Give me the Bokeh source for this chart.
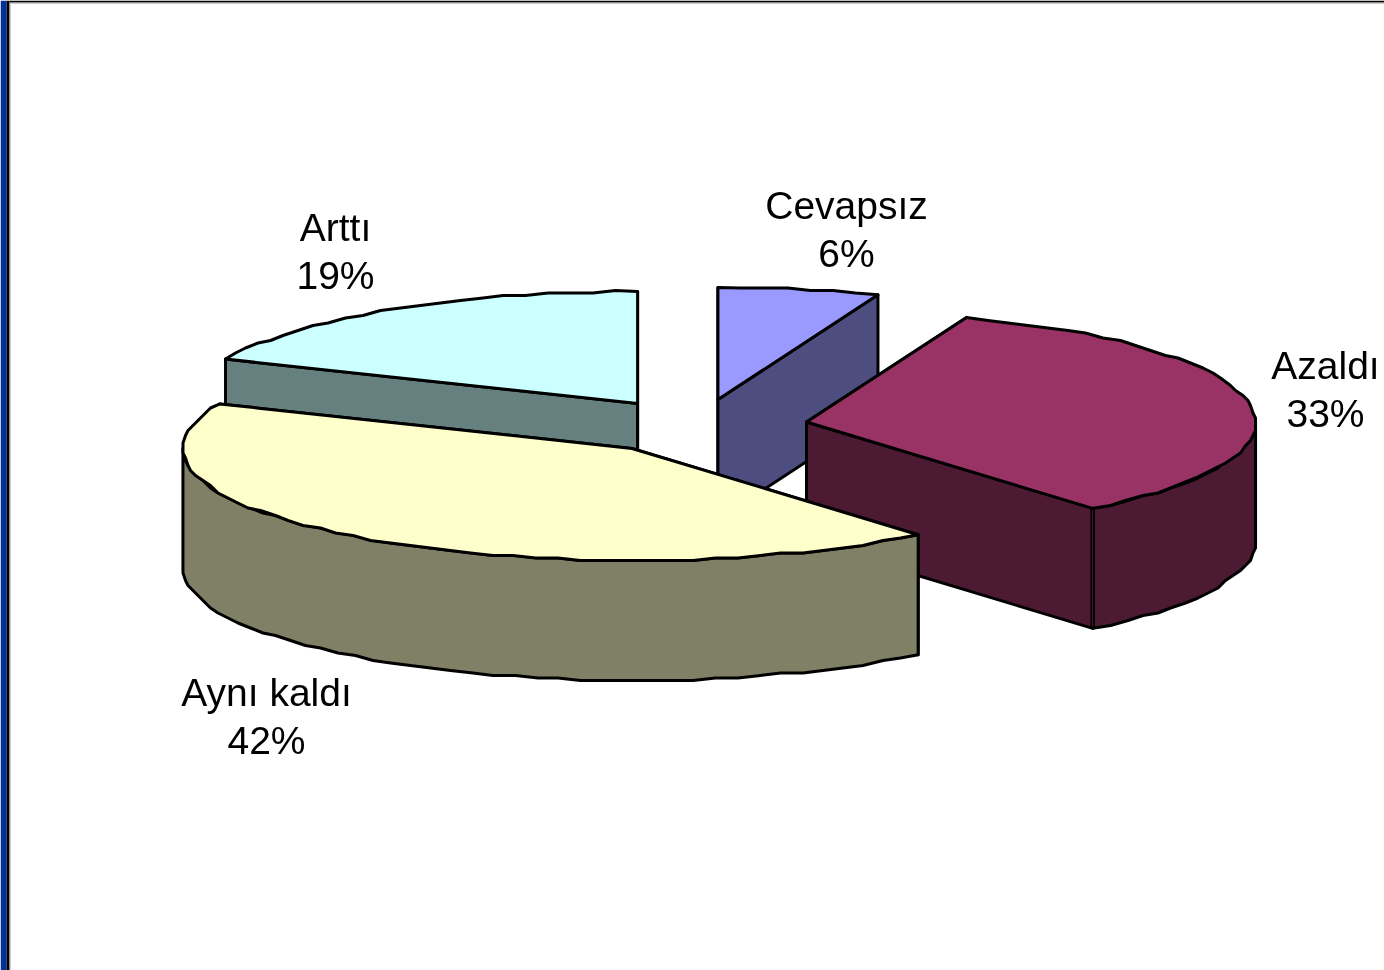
import math
from bokeh.plotting import figure
from bokeh.models import Range1d
from bokeh.embed import file_html
from bokeh.resources import INLINE
from bokeh.core.properties import value

# Data
categories = ["Arttı", "Cevapsız", "Azaldı", "Aynı kaldı"]
shares = [18.5, 5.8, 33.2, 42.5]
share_labels = ["19%", "6%", "33%", "42%"]
top_colors = ["#CCFFFF", "#9999FF", "#993366", "#FFFFCC"]
side_colors = ["#668080", "#4D4D80", "#4D1A33", "#808066"]

# Geometry of the exploded 3D pie (page pixels)
CX, CY = 697.5, 426.0
RX, RY = 449.0, 112.0
DEPTH = 120.0
EXPLODE = 0.245
RIM_STEP = 15.0   # the rim is a coarse polyline in the source picture
RIM_SNAP = 2.5
LABEL_POS = [(335, 251), (846, 229), (1325, 389), (266, 716)]

W, H = 1384, 970
p = figure(width=W, height=H, output_backend="svg", toolbar_location=None,
           x_range=Range1d(0, W), y_range=Range1d(H, 0),
           min_border=0, outline_line_color=None,
           styles={"position": "fixed", "left": "0px", "top": "0px"})
p.axis.visible = False
p.grid.visible = False
p.background_fill_color = "white"

# Slide frame
p.quad(left=[0], right=[6], top=[0], bottom=[H], fill_color="#003399", line_color=None)
p.quad(left=[6], right=[9], top=[0], bottom=[H], fill_color="#000000", line_color=None)
p.quad(left=[9], right=[10], top=[3], bottom=[H], fill_color="#999999", line_color=None)
p.quad(left=[9], right=[W], top=[0], bottom=[2], fill_color="#000000", line_color=None)
p.quad(left=[10], right=[W], top=[2], bottom=[3], fill_color="#999999", line_color=None)


def pt(ax, ay, deg):
    r = math.radians(deg)
    return ax + RX * math.sin(r), ay - RY * math.cos(r)


def arc(ax, ay, a0, a1):
    """Rim as a coarse polyline with snapped vertices, ends kept exact."""
    n = max(2, int(abs(a1 - a0) / 360 * 2 * math.pi * 300 / RIM_STEP))
    out = []
    for i in range(n + 1):
        x, y = pt(ax, ay, a0 + (a1 - a0) * i / n)
        if 0 < i < n:
            x = round(x / RIM_SNAP) * RIM_SNAP
            y = round(y / RIM_SNAP) * RIM_SNAP
        out.append((x, y))
    return out


def patch(points, color):
    p.patch([q[0] for q in points], [q[1] for q in points], fill_color=color,
            line_color="black", line_width=3, line_join="round")


def wall(a, b, color):
    patch([a, b, (b[0], b[1] + DEPTH), (a[0], a[1] + DEPTH)], color)


# slices, clockwise from 12 o'clock, in order Cevapsız, Azaldı, Aynı kaldı, Arttı
order = [1, 2, 3, 0]
ang = 0.0
spans = {}
for i in order:
    sweep = shares[i] * 3.6
    spans[i] = (ang, ang + sweep)
    ang += sweep

# painter's order: back slices first
for i in [0, 1, 2, 3]:
    a0, a1 = spans[i]
    mid = math.radians((a0 + a1) / 2)
    ax = CX + EXPLODE * RX * math.sin(mid)
    ay = CY - EXPLODE * RY * math.cos(mid)
    apex = (ax, ay)
    wall(apex, pt(ax, ay, a0), side_colors[i])
    wall(apex, pt(ax, ay, a1), side_colors[i])
    lo, hi = max(a0, 90), min(a1, 270)
    rim = arc(ax, ay, lo, hi)
    if hi > lo:
        patch(rim + [(x, y + DEPTH) for x, y in reversed(rim)], side_colors[i])
    if a0 < 90 < a1 < 180:  # seam where the cut face meets the rim
        sx, sy = pt(ax, ay, a1)
        p.line([sx, sx], [sy, sy + DEPTH], line_color="black", line_width=4.5)
        p.line([sx, sx], [sy + 2, sy + DEPTH - 2], line_color=side_colors[i], line_width=1)
    patch([apex] + arc(ax, ay, a0, a1), top_colors[i])

# Labels
for (x, y), c, s in zip(LABEL_POS, categories, share_labels):
    p.text([x], [y], text=[c + "\n" + s], text_font=value("Liberation Sans"),
           text_font_size="39px", text_color="black", text_align="center",
           text_baseline="middle", text_line_height=1.13)

open("out.html", "w").write(file_html(p, INLINE))
